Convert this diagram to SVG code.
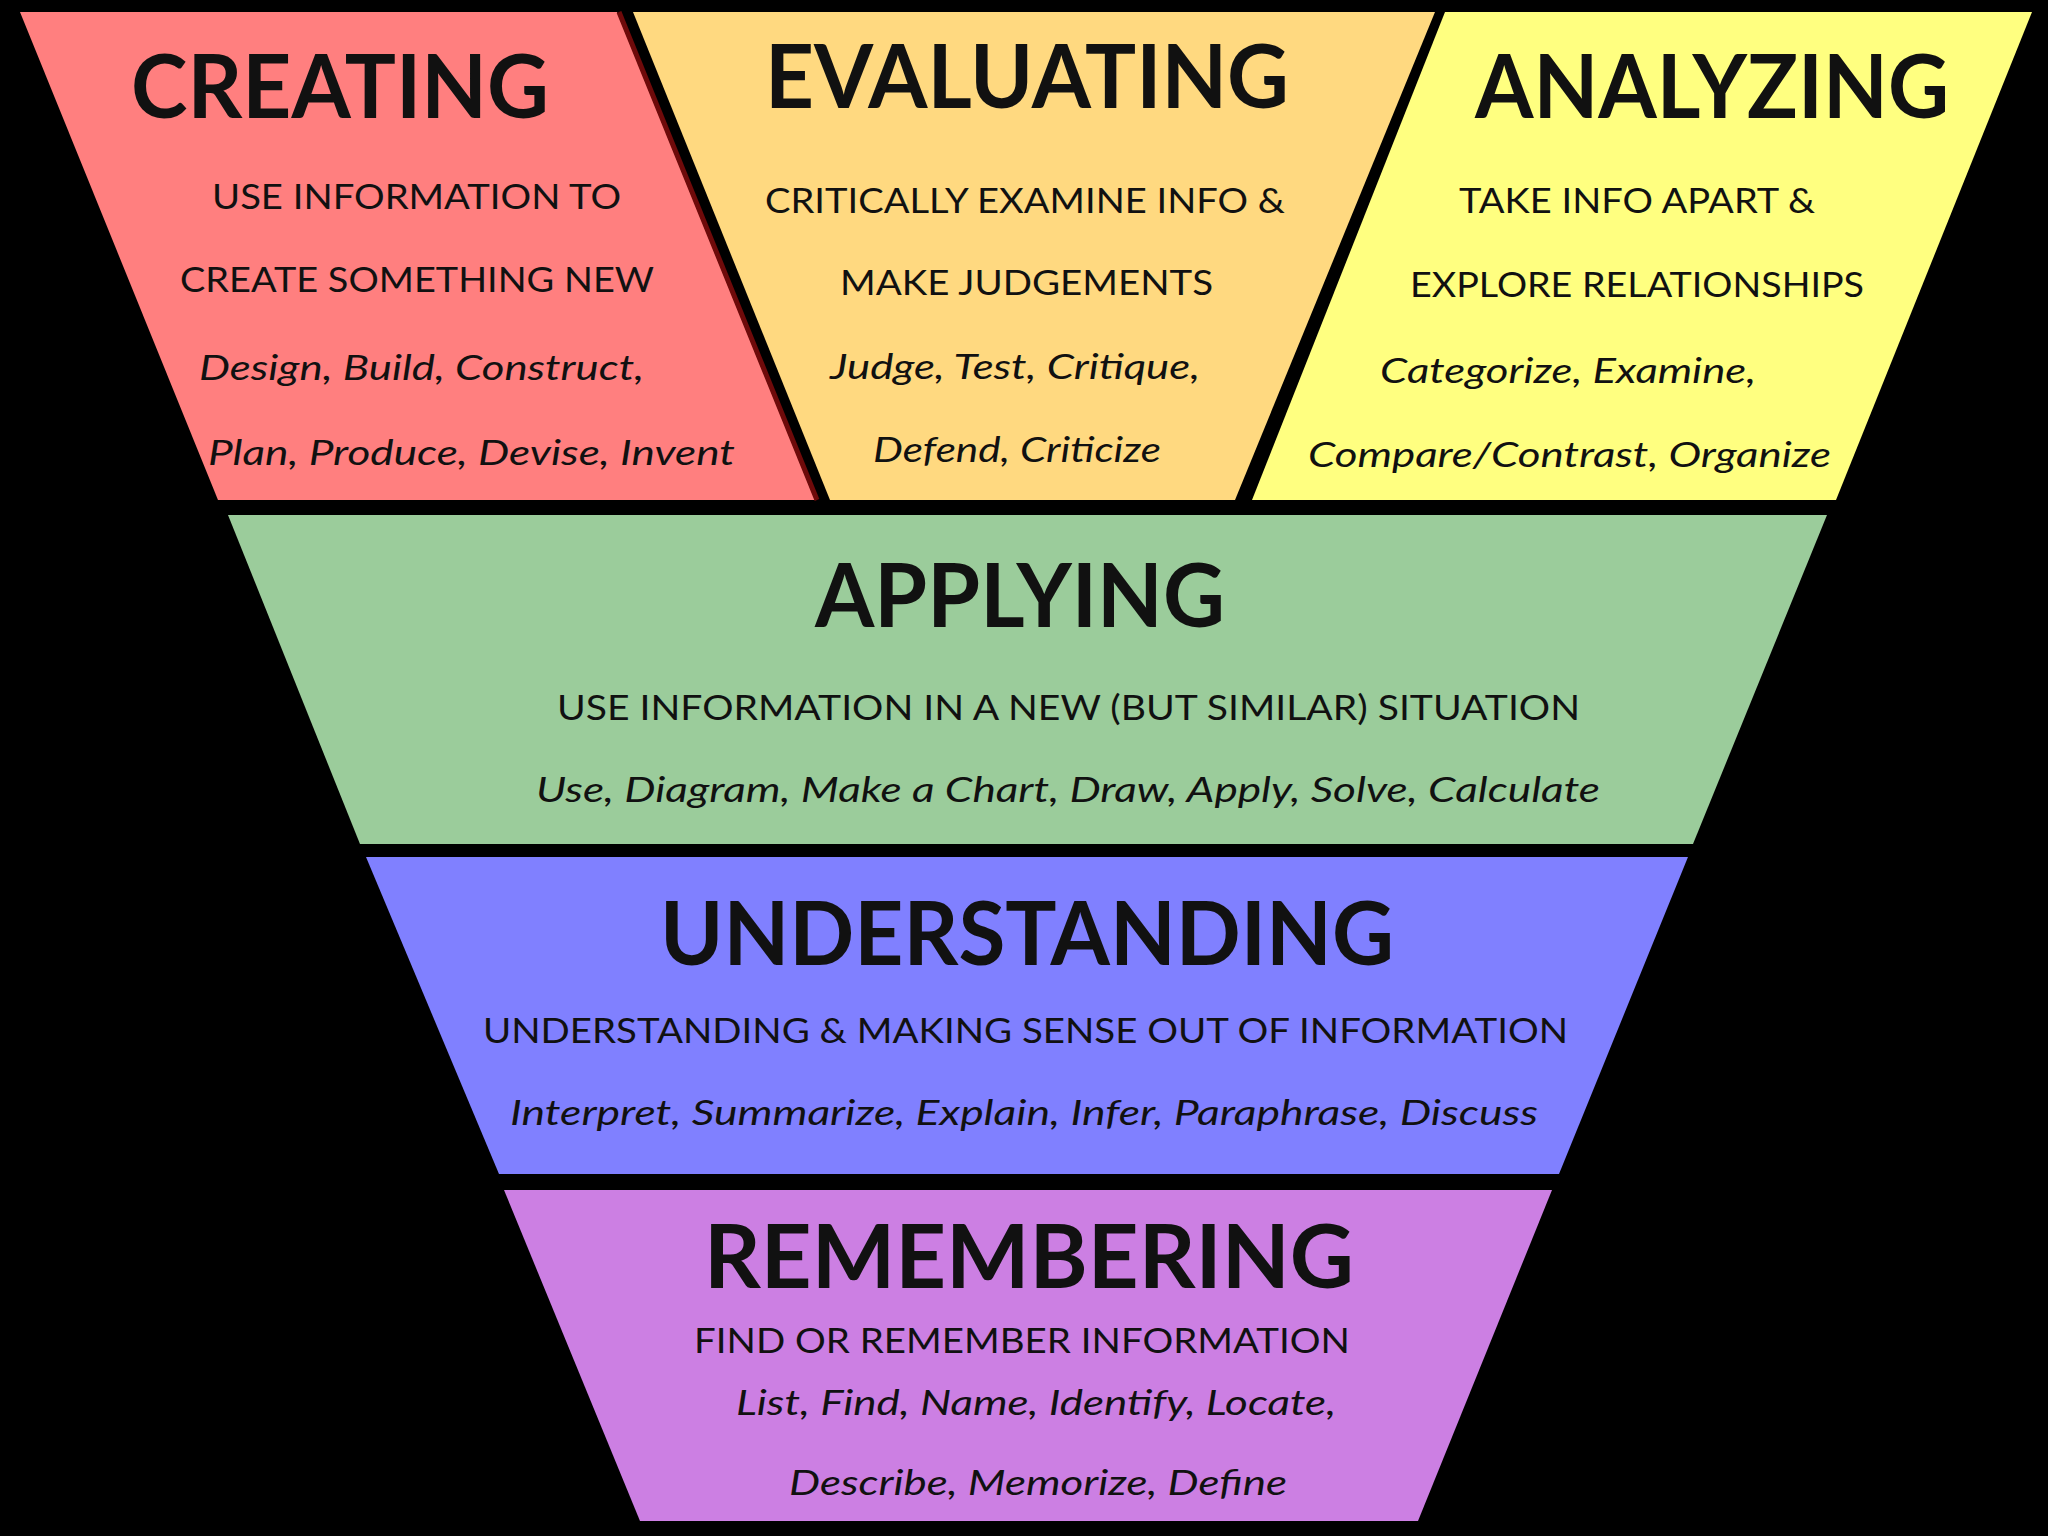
<svg xmlns="http://www.w3.org/2000/svg" width="2048" height="1536" viewBox="0 0 2048 1536">
<style>
.t{font-family:Lato,"Open Sans","Liberation Sans",sans-serif;fill:#111;}
.h{font-size:88px;font-weight:700;}
.s{font-size:35px;font-weight:400;}
.i{font-size:35px;font-style:italic;font-weight:400;}
</style>
<rect width="2048" height="1536" fill="#000"/>
<g id="creating">
<polygon points="20,12 617,12 815,500 218,500" fill="#FF7F7F"/>
<line x1="619" y1="12" x2="817" y2="500" stroke="#6e0a0a" stroke-width="5"/>
<text class="t h" x="131" y="118" textLength="418" lengthAdjust="spacingAndGlyphs">CREATING</text>
<text class="t s" x="212" y="209" textLength="409" lengthAdjust="spacingAndGlyphs">USE INFORMATION TO</text>
<text class="t s" x="180" y="292" textLength="474" lengthAdjust="spacingAndGlyphs">CREATE SOMETHING NEW</text>
<text class="t i" x="199" y="380" textLength="445" lengthAdjust="spacingAndGlyphs">Design, Build, Construct,</text>
<text class="t i" x="208" y="465" textLength="527" lengthAdjust="spacingAndGlyphs">Plan, Produce, Devise, Invent</text>
</g>
<g id="evaluating">
<polygon points="633,12 1435,12 1235,500 830,500" fill="#FFD980"/>
<text class="t h" x="765" y="108" textLength="524" lengthAdjust="spacingAndGlyphs">EVALUATING</text>
<text class="t s" x="765" y="213" textLength="520" lengthAdjust="spacingAndGlyphs">CRITICALLY EXAMINE INFO &amp;</text>
<text class="t s" x="840" y="295" textLength="373" lengthAdjust="spacingAndGlyphs">MAKE JUDGEMENTS</text>
<text class="t i" x="830" y="379" textLength="370" lengthAdjust="spacingAndGlyphs">Judge, Test, Critique,</text>
<text class="t i" x="873" y="462" textLength="288" lengthAdjust="spacingAndGlyphs">Defend, Criticize</text>
</g>
<g id="analyzing">
<polygon points="1445,12 2032,12 1836,500 1252,500" fill="#FFFF80"/>
<text class="t h" x="1475" y="118" textLength="474" lengthAdjust="spacingAndGlyphs">ANALYZING</text>
<text class="t s" x="1459" y="213" textLength="356" lengthAdjust="spacingAndGlyphs">TAKE INFO APART &amp;</text>
<text class="t s" x="1410" y="297" textLength="454" lengthAdjust="spacingAndGlyphs">EXPLORE RELATIONSHIPS</text>
<text class="t i" x="1380" y="383" textLength="376" lengthAdjust="spacingAndGlyphs">Categorize, Examine,</text>
<text class="t i" x="1308" y="467" textLength="523" lengthAdjust="spacingAndGlyphs">Compare/Contrast, Organize</text>
</g>
<g id="applying">
<polygon points="228,515 1827,515 1693,844 360,844" fill="#9BCC9B"/>
<text class="t h" x="815" y="627" textLength="410" lengthAdjust="spacingAndGlyphs">APPLYING</text>
<text class="t s" x="557" y="720" textLength="1023" lengthAdjust="spacingAndGlyphs">USE INFORMATION IN A NEW (BUT SIMILAR) SITUATION</text>
<text class="t i" x="536" y="802" textLength="1064" lengthAdjust="spacingAndGlyphs">Use, Diagram, Make a Chart, Draw, Apply, Solve, Calculate</text>
</g>
<g id="understanding">
<polygon points="366,857 1688,857 1559,1174 499,1174" fill="#8080FF"/>
<text class="t h" x="660" y="965" textLength="734" lengthAdjust="spacingAndGlyphs">UNDERSTANDING</text>
<text class="t s" x="483" y="1043" textLength="1085" lengthAdjust="spacingAndGlyphs">UNDERSTANDING &amp; MAKING SENSE OUT OF INFORMATION</text>
<text class="t i" x="510" y="1125" textLength="1028" lengthAdjust="spacingAndGlyphs">Interpret, Summarize, Explain, Infer, Paraphrase, Discuss</text>
</g>
<g id="remembering">
<polygon points="504,1190 1552,1190 1418,1521 640,1521" fill="#CC7FE3"/>
<text class="t h" x="704" y="1288" textLength="650" lengthAdjust="spacingAndGlyphs">REMEMBERING</text>
<text class="t s" x="694" y="1353" textLength="656" lengthAdjust="spacingAndGlyphs">FIND OR REMEMBER INFORMATION</text>
<text class="t i" x="736" y="1415" textLength="600" lengthAdjust="spacingAndGlyphs">List, Find, Name, Identify, Locate,</text>
<text class="t i" x="789" y="1495" textLength="498" lengthAdjust="spacingAndGlyphs">Describe, Memorize, Define</text>
</g>
</svg>
